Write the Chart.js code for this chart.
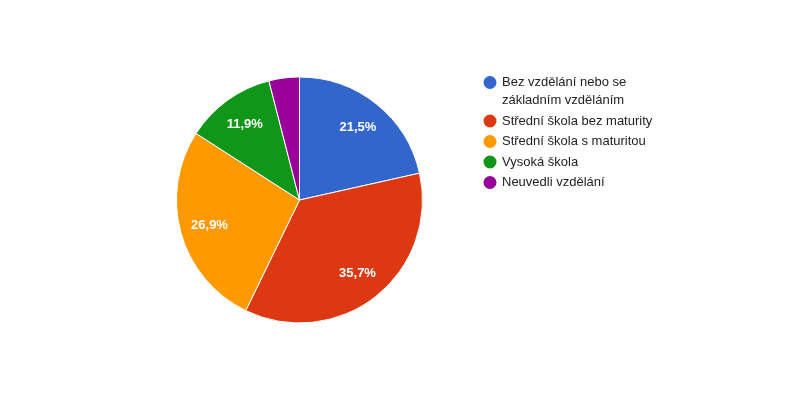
<!DOCTYPE html>
<html>
<head>
<meta charset="utf-8">
<script src="https://cdn.jsdelivr.net/npm/chart.js@4"></script>
<style>
  html, body { margin: 0; padding: 0; background: #fff; }
  #wrap { width: 800px; height: 400px; }
</style>
</head>
<body>
<div id="wrap"><canvas id="myChart" width="800" height="400"></canvas></div>
<script>
var categories = [
    ["Bez vzdělání nebo se", "základním vzděláním"],
    ["Střední škola bez maturity"],
    ["Střední škola s maturitou"],
    ["Vysoká škola"],
    ["Neuvedli vzdělání"]
];
var shares = [21.5, 35.7, 26.9, 11.9, 4.0];
var colors = ["#3366cc", "#dc3912", "#ff9900", "#109618", "#990099"];

// percent labels inside the slices, hidden for small ones like google does
var sliceLabels = {
    id: "sliceLabels",
    afterDatasetsDraw: function(chart){
        var ctx = chart.ctx;
        var meta = chart.getDatasetMeta(0);
        var total = shares.reduce(function(a, b){ return a + b; }, 0);
        ctx.save();
        ctx.font = "bold 13px Arial, 'Liberation Sans'";
        ctx.fillStyle = "#ffffff";
        ctx.textAlign = "center";
        ctx.textBaseline = "middle";
        meta.data.forEach(function(arc, i){
            var pct = shares[i] / total * 100;
            if (pct < 5) return;
            var mid = (arc.startAngle + arc.endAngle) / 2;
            var r = arc.outerRadius * 0.76;
            var x = arc.x + Math.cos(mid) * r;
            var y = arc.y + Math.sin(mid) * r;
            ctx.fillText(pct.toFixed(1).replace(".", ",") + "%", x, y);
        });
        ctx.restore();
    }
};

// legend on the right with wrapped text
var sideLegend = {
    id: "sideLegend",
    afterDraw: function(chart){
        var ctx = chart.ctx;
        var x = 490, y = 82.5, lineH = 18, gap = 20.5;
        ctx.save();
        ctx.font = "13px Arial, 'Liberation Sans'";
        ctx.textAlign = "left";
        ctx.textBaseline = "middle";
        categories.forEach(function(lines, i){
            ctx.fillStyle = colors[i];
            ctx.beginPath();
            ctx.arc(x, y, 6.5, 0, Math.PI * 2);
            ctx.fill();
            ctx.fillStyle = "#222222";
            lines.forEach(function(t, j){
                ctx.fillText(t, x + 12, y + j * lineH);
            });
            y += (lines.length - 1) * lineH + gap;
        });
        ctx.restore();
    }
};

var ctx = document.getElementById("myChart").getContext("2d");

var myChart = new Chart(ctx, {
    type: "pie",
    data: {
        labels: categories.map(function(l){ return l.join(" "); }),
        datasets: [{
            data: shares,
            backgroundColor: colors,
            borderColor: "#ffffff",
            borderWidth: 1
        }]
    },
    options: {
        responsive: false,
        animation: false,
        rotation: 0,
        layout: { padding: { left: 176, right: 377, top: 76.5, bottom: 76.5 } },
        plugins: {
            legend: { display: false },
            tooltip: { enabled: false }
        }
    },
    plugins: [sliceLabels, sideLegend]
});
</script>
</body>
</html>
